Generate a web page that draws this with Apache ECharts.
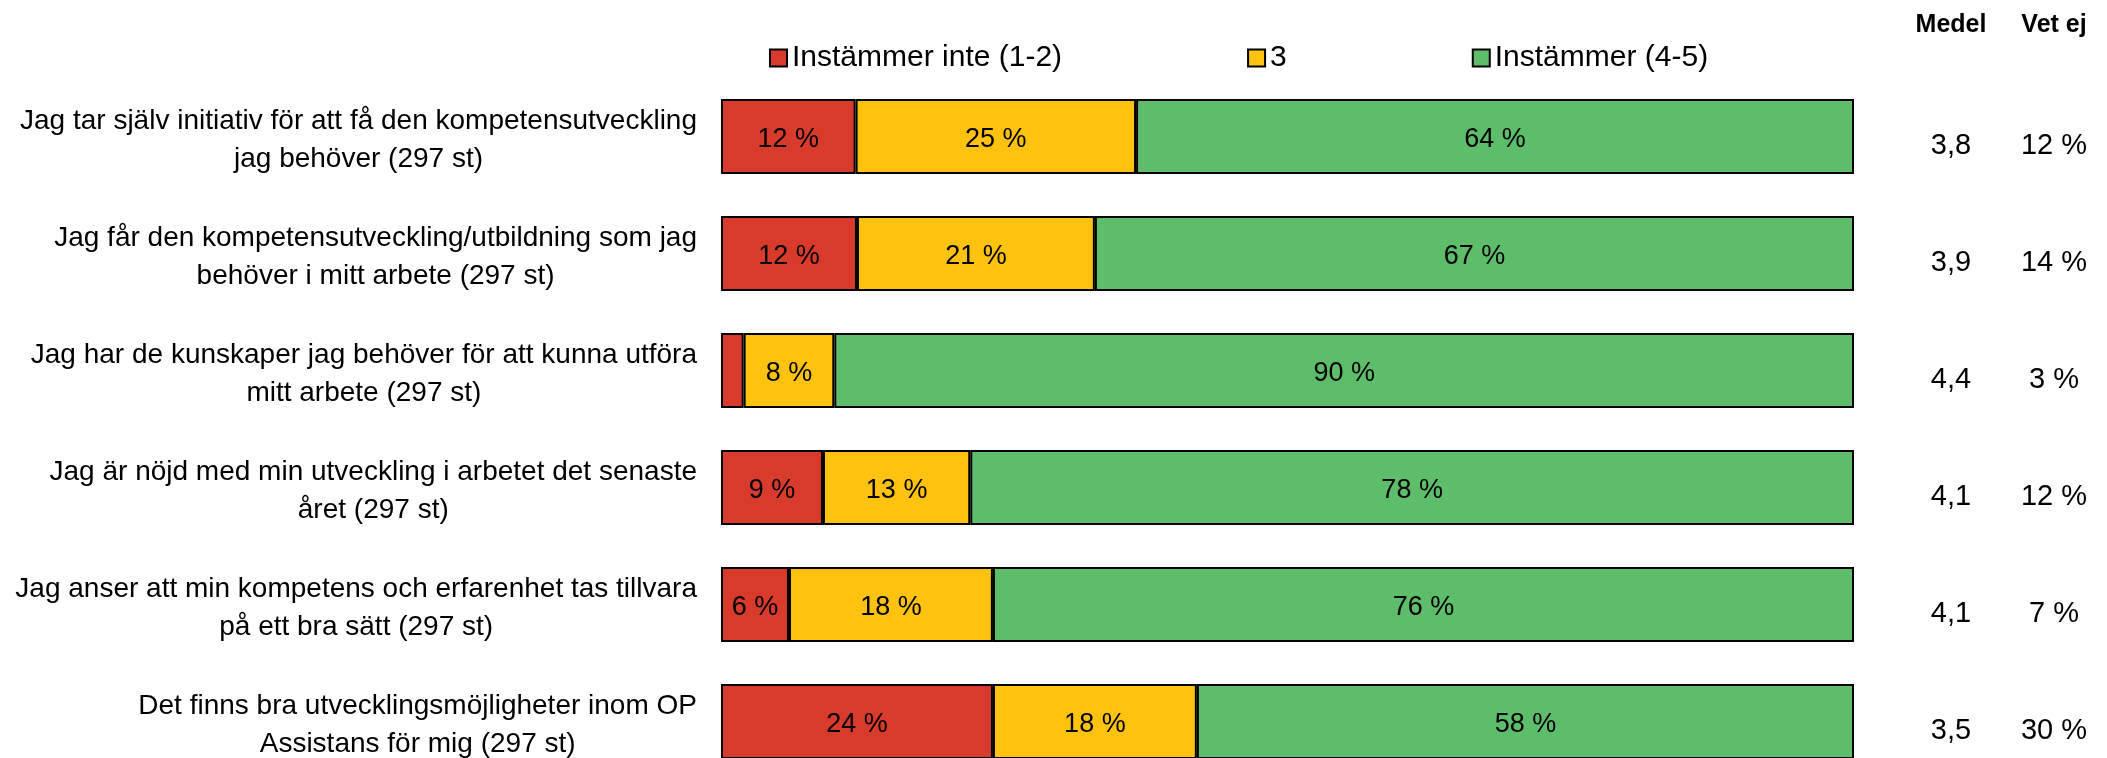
<!DOCTYPE html>
<html>
<head>
<meta charset="utf-8">
<script src="https://cdn.jsdelivr.net/npm/echarts@6/dist/echarts.min.js"></script>
<style>
  html, body { margin: 0; padding: 0; background: #fff; }
  #chart { width: 2107px; height: 758px; }
</style>
</head>
<body>
<div id="chart"></div>
<script>
// frågor (y-axel)
const categories = [
  'Jag tar själv initiativ för att få den kompetensutveckling\njag behöver (297 st)',
  'Jag får den kompetensutveckling/utbildning som jag\nbehöver i mitt arbete (297 st)',
  'Jag har de kunskaper jag behöver för att kunna utföra\nmitt arbete (297 st)',
  'Jag är nöjd med min utveckling i arbetet det senaste\nåret (297 st)',
  'Jag anser att min kompetens och erfarenhet tas tillvara\npå ett bra sätt (297 st)',
  'Det finns bra utvecklingsmöjligheter inom OP\nAssistans för mig (297 st)'
];
const seriesNames = ['Instämmer inte (1-2)', '3', 'Instämmer (4-5)'];
const disagree = [12, 12, 2, 9, 6, 24];
const neutral = [25, 21, 8, 13, 18, 18];
const agree = [64, 67, 90, 78, 76, 58];
const medel = [3.8, 3.9, 4.4, 4.1, 4.1, 3.5];
const vetEj = [12, 14, 3, 12, 7, 30];
const colors = ['#D83B2B', '#FFC20F', '#5EBD6A'];

const FONT = "'Liberation Sans', Arial, sans-serif";

const chart = echarts.init(document.getElementById('chart'));

// varje rad fyller hela stapeln (andel av radens summa)
const rowTotals = disagree.map((v, i) => v + neutral[i] + agree[i]);
const makeSeries = (name, values, idx) => ({
  name: name,
  type: 'bar',
  stack: 'total',
  barWidth: 75,
  itemStyle: { color: colors[idx], borderColor: '#000', borderWidth: 2 },
  label: {
    show: true,
    position: 'inside',
    offset: [0, 3],
    color: '#000',
    fontFamily: FONT,
    fontSize: 27,
    formatter: (p) => values[p.dataIndex] < 4 ? '' : values[p.dataIndex] + ' %'
  },
  emphasis: { disabled: true },
  data: values.map((v, i) => v / rowTotals[i] * 100)
});

// kolumnerna till höger (Medel, Vet ej)
const sideAxis = (values, fmt, offset) => ({
  type: 'category',
  inverse: true,
  position: 'right',
  offset: offset,
  data: values.map(fmt),
  axisLine: { show: false },
  axisTick: { show: false },
  splitLine: { show: false },
  axisLabel: {
    align: 'center',
    verticalAlign: 'top',
    lineHeight: 18,
    margin: 0,
    color: '#000',
    fontFamily: FONT,
    fontSize: 29
  }
});

chart.setOption({
  animation: false,
  backgroundColor: '#fff',
  textStyle: { fontFamily: FONT },
  legend: {
    data: seriesNames,
    left: 769,
    top: 43,
    padding: 0,
    itemWidth: 17,
    itemHeight: 17,
    itemGap: 185,
    icon: 'rect',
    selectedMode: false,
    textStyle: { color: '#000', fontSize: 30, fontFamily: FONT }
  },
  grid: {
    left: 721,
    right: 253,
    top: 78,
    bottom: -22,
    outerBoundsMode: 'none'
  },
  xAxis: {
    type: 'value',
    min: 0,
    max: 100,
    show: false
  },
  yAxis: [
    {
      type: 'category',
      inverse: true,
      data: categories,
      axisLine: { show: false },
      axisTick: { show: false },
      axisLabel: {
        margin: 24,
        align: 'right',
        color: '#000',
        fontFamily: FONT,
        fontSize: 28,
        lineHeight: 38,
        padding: [8, 0, 0, 0],
        formatter: (v) => v.split('\n').map((l) => '{c|' + l + '}').join('\n'),
        rich: {
          c: { align: 'center', fontSize: 28, lineHeight: 38, fontFamily: FONT, color: '#000' }
        }
      }
    },
    sideAxis(medel, (v) => v.toFixed(1).replace('.', ','), 97),
    sideAxis(vetEj, (v) => v + ' %', 200)
  ],
  graphic: [
    { type: 'text', x: 1951, y: 25, style: { text: 'Medel', fontFamily: FONT, fontSize: 25, fontWeight: 'bold', fill: '#000', textAlign: 'center', textVerticalAlign: 'middle' } },
    { type: 'text', x: 2054, y: 25, style: { text: 'Vet ej', fontFamily: FONT, fontSize: 25, fontWeight: 'bold', fill: '#000', textAlign: 'center', textVerticalAlign: 'middle' } }
  ],
  series: [
    makeSeries(seriesNames[0], disagree, 0),
    makeSeries(seriesNames[1], neutral, 1),
    makeSeries(seriesNames[2], agree, 2)
  ]
});
</script>
</body>
</html>
